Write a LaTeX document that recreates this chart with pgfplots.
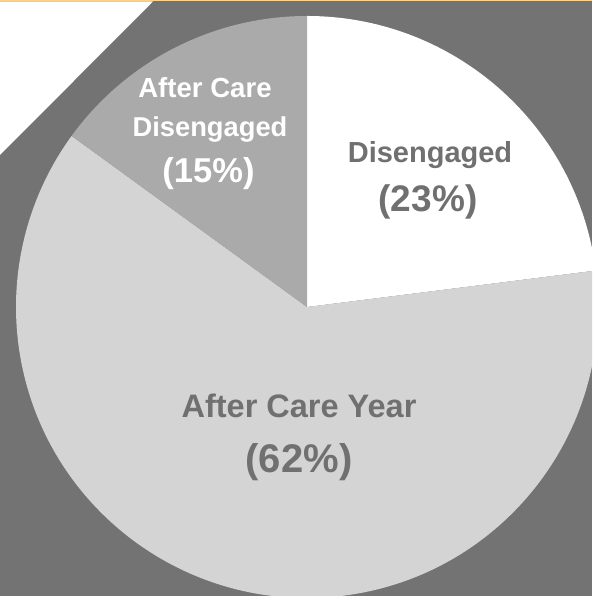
\documentclass[border=0pt]{standalone}
\usepackage{fontspec}
\setmainfont{Liberation Sans}
\usepackage{pgfplots}
\usepackage{pgfplotstable}
\pgfplotsset{compat=1.18}
\definecolor{bggrey}{HTML}{737373}
\definecolor{topline}{HTML}{FBD38D}
\definecolor{sliceA}{HTML}{FFFFFF}
\definecolor{sliceB}{HTML}{D4D4D4}
\definecolor{sliceC}{HTML}{AAAAAA}
\definecolor{labgrey}{HTML}{707070}
\pgfplotstableread{
label pct
Disengaged 23
AfterCareYear 62
AfterCareDisengaged 15
}\piedata
\newcommand\lab[2]{\fontsize{#1}{#1}\selectfont\bfseries #2}
\begin{document}
\begin{tikzpicture}
\pgfplotstablegetelem{0}{pct}\of\piedata \let\pA\pgfplotsretval
\pgfplotstablegetelem{1}{pct}\of\piedata \let\pB\pgfplotsretval
\pgfplotstablegetelem{2}{pct}\of\piedata \let\pC\pgfplotsretval
\pgfmathsetmacro\aS{90}
\pgfmathsetmacro\aA{\aS-3.6*\pA}
\pgfmathsetmacro\aB{\aA-3.6*\pB}
\pgfmathsetmacro\aC{\aB-3.6*\pC}
\clip (0,0) rectangle (592pt,596pt);
\begin{axis}[at={(0pt,0pt)}, anchor=south west,
  x=1pt, y=1pt, xmin=0, xmax=592, ymin=0, ymax=596,
  hide axis, clip=true]
  % background
  \fill[bggrey] (axis cs:0,0) rectangle (axis cs:592,596);
  \fill[white] (axis cs:0,594.5) -- (axis cs:153,594.5) -- (axis cs:0,441) -- cycle;
  \fill[topline] (axis cs:0,594.5) rectangle (axis cs:592,597);
  % pie slices
  \fill[sliceA] (axis cs:307,289) -- ++(\aS:291pt) arc[start angle=\aS, end angle=\aA, radius=291pt] -- cycle;
  \fill[sliceB] (axis cs:307,289) -- ++(\aA:291pt) arc[start angle=\aA, end angle=\aB, radius=291pt] -- cycle;
  \fill[sliceC] (axis cs:307,289) -- ++(\aB:291pt) arc[start angle=\aB, end angle=\aC, radius=291pt] -- cycle;
  % labels
  \node[anchor=base, text=labgrey, inner sep=0pt] at (axis cs:430,433) {\lab{29}{Disengaged}};
  \node[anchor=base, text=labgrey, inner sep=0pt] at (axis cs:428,384) {\lab{37}{(23\%)}};
  \node[anchor=base, text=labgrey, inner sep=0pt] at (axis cs:299,178) {\lab{32.5}{After Care Year}};
  \node[anchor=base, text=labgrey, inner sep=0pt] at (axis cs:299,123) {\lab{40}{(62\%)}};
  \node[anchor=base, text=white, inner sep=0pt] at (axis cs:205,498) {\lab{27.6}{After Care}};
  \node[anchor=base, text=white, inner sep=0pt] at (axis cs:210,459) {\lab{27.3}{Disengaged}};
  \node[anchor=base, text=white, inner sep=0pt] at (axis cs:208.5,413) {\lab{34.5}{(15\%)}};
\end{axis}
\end{tikzpicture}
\end{document}
